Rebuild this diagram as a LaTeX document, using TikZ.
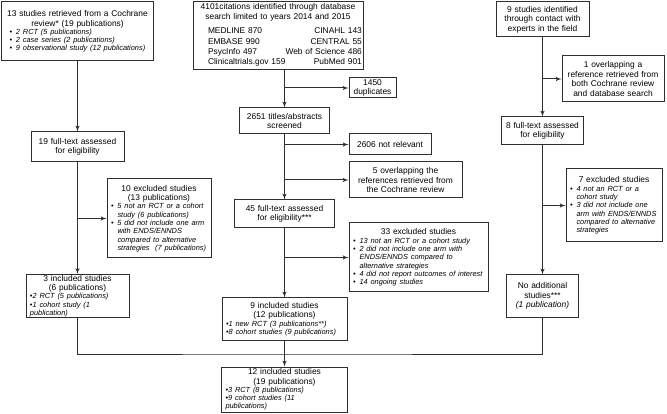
\documentclass[tikz,border=0pt]{standalone}
\usepackage{fontspec}
\setmainfont{Liberation Sans}
\usetikzlibrary{arrows,positioning}
\definecolor{Edge}{gray}{.18}
\newcommand{\smalltxt}{\fontsize{7.4}{8.3}\selectfont\itshape}
\newcommand{\bul}[1]{\par\hangindent=6.5pt\hangafter=1\noindent\makebox[6.5pt][l]{\textbullet}#1}
\newcommand{\dotitem}[1]{\par\noindent\textbullet#1}

\begin{document}
\begin{tikzpicture}
    [
    x=1pt, y=-1pt,
    block/.style ={
        rectangle,
        draw=Edge,
        line width=1pt,
        font=\fontsize{8.4}{9.5}\selectfont,
        align=center,
        inner xsep=4pt,
        inner ysep=2pt
    },
    tight/.style={
        block,
        inner ysep=.5pt
    },
    a/.style={
        -latex',
        line width=1pt,
        draw=Edge
    },
    l/.style={
        line width=1pt,
        draw=Edge
    }
    ]
    \useasboundingbox (0,0) rectangle (667,414);

    \node (cochrane)[block,text width=144pt,minimum height=59pt] at (77.5,31.5) {13 studies retrieved from a Cochrane\\review* (19 publications)\par\smalltxt\raggedright\leftskip=4pt\bul{2 RCT (5 publications)}\bul{2 case series (2 publications)}\bul{9 observational study (12 publications)}\par};
    \node (db)[block,text width=162pt,minimum height=67pt] at (278,35.5) {4101citations identified through database\\search limited to years 2014 and 2015\par\vspace{5pt}\noindent\hspace*{11pt}\renewcommand{\arraystretch}{1.07}\begin{tabular*}{151pt}{@{}l@{\extracolsep{\fill}}r@{}}MEDLINE 870&CINAHL 143\\EMBASE 990&CENTRAL 55\\PsycInfo 497&Web of Science 486\\Clinicaltrials.gov 159&PubMed 901\end{tabular*}};
    \node (experts)[block,text width=85pt,minimum height=35pt] at (542.5,19.5) {9 studies identified\\through contact with\\experts in the field};

    \node (dup)[tight,text width=39pt,minimum height=20pt] at (372.5,88) {1450\\duplicates};
    \node (overlapExp)[block,text width=94pt,minimum height=46pt] at (613,79) {1 overlapping a\\reference retrieved from\\both Cochrane review\\and database search};

    \node (ftLeft)[block,text width=85pt,minimum height=30pt] at (77.5,147) {19 full-text assessed\\for eligibility};
    \node (screen)[block,text width=82pt,minimum height=26pt] at (284.5,121) {2651 titles/abstracts\\screened};
    \node (ftRight)[block,text width=74pt,minimum height=28pt] at (542.5,131) {8 full-text assessed\\for eligibility};
    \node (notrel)[block,text width=74pt,minimum height=21pt] at (390,144.5) {2606 not relevant};
    \node (overlapDb)[block,text width=105pt,minimum height=36pt] at (405.5,180) {5 overlapping the\\references retrieved from\\the Cochrane review};
    \node (ft45)[block,text width=92pt,minimum height=28pt] at (284.5,214) {45 full-text assessed\\for eligibility***};

    \node (exclLeft)[block,text width=96pt,minimum height=79pt] at (159,218.5) {10 excluded studies\\(13 publications)\par\smalltxt\raggedright\bul{5 not an RCT or a cohort\newline study (6 publications)}\bul{5 did not include one arm\newline with ENDS/ENNDS\newline compared to alternative\newline strategies~ (7 publications)}\par};
    \node (exclRight)[block,text width=88pt,minimum height=73pt] at (614,205.5) {7 excluded studies\par\smalltxt\raggedright\bul{4 not an RCT or a\newline cohort study}\bul{3 did not include one\newline arm with ENDS/ENNDS\newline compared to alternative\newline strategies}\par};
    \node (exclMid)[block,text width=131pt,minimum height=69pt] at (418.5,257.5) {33 excluded studies\par\smalltxt\raggedright\bul{13 not an RCT or a cohort study}\bul{2 did not include one arm with\newline ENDS/ENNDS compared to\newline alternative strategies}\bul{4 did not report outcomes of interest}\bul{14 ongoing studies}\par};

    \node (incLeft)[tight,text width=95pt,minimum height=42pt] at (77.5,296) {3 included studies\\(6 publications)\par\smalltxt\raggedright\dotitem{2 RCT (5 publications)}\dotitem{1 cohort study (1\newline publication)}\par};
    \node (incMid)[tight,text width=117pt,minimum height=42pt] at (284.5,319) {9 included studies\\(12 publications)\par\smalltxt\raggedright\dotitem{1 new RCT (3 publications**)}\dotitem{8 cohort studies (9 publications)}\par};
    \node (incRight)[block,text width=64pt,minimum height=42pt] at (542.5,296) {No additional\\studies***\\\textit{(1 publication)}};
    \node (incAll)[tight,text width=118pt,minimum height=45pt] at (284.5,389.5) {12 included studies\\(19 publications)\par\smalltxt\raggedright\dotitem{3 RCT (8 publications)}\dotitem{9 cohort studies (11\newline publications)}\par};

    \coordinate (join) at (284.5,354);

    \draw[a] (cochrane) -- (ftLeft);
    \draw[a] (ftLeft) -- (incLeft);
    \draw[a] (ftLeft.south |- exclLeft.west) -- (exclLeft.west);

    \draw[a] (db.south -| screen) -- (screen);
    \draw[a] (screen.north |- dup.west) -- (dup.west);
    \draw[a] (screen) -- (ft45);
    \draw[a] (screen.south |- notrel.west) -- (notrel.west);
    \draw[a] (screen.south |- overlapDb.west) -- (overlapDb.west);
    \draw[a] (ft45) -- (incMid);
    \draw[a] (ft45.south |- exclMid.west) -- (exclMid.west);

    \draw[a] (experts) -- (ftRight);
    \draw[a] (experts.south |- overlapExp.west) -- (overlapExp.west);
    \draw[a] (ftRight) -- (incRight);
    \draw[a] (ftRight.south |- exclRight.west) -- (exclRight.west);

    \draw[l] (incLeft.south) |- (join) -| (incRight.south);
    \draw[a] (incMid) -- (incAll);
\end{tikzpicture}
\end{document}
